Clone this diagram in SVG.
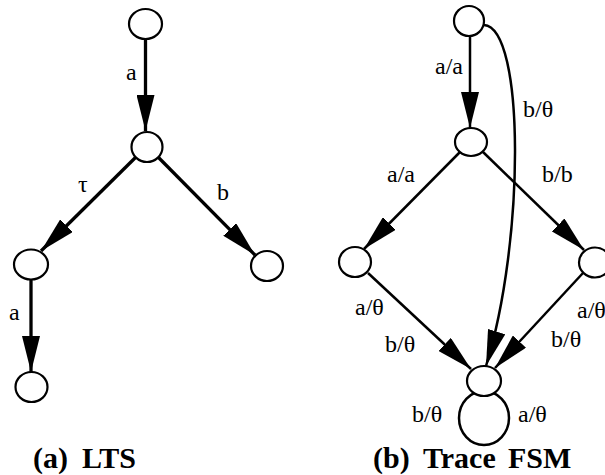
<svg xmlns="http://www.w3.org/2000/svg" width="605" height="475" viewBox="0 0 605 475">
<style>
.node{fill:#fff;stroke:#000;stroke-width:2.2}
.e1{fill:none;stroke:#000;stroke-width:3.3}
.e2{fill:none;stroke:#000;stroke-width:2.5}
</style>
<defs>
<marker id="ah" markerUnits="userSpaceOnUse" markerWidth="36" markerHeight="18" refX="36" refY="9" orient="auto" viewBox="0 0 36 18">
<path d="M0,0 L36,9 L0,18 z" fill="#000"/>
</marker>
</defs>
<rect width="605" height="475" fill="#fff"/>
<g id="connectors">
<line class="e1" x1="145.5" y1="39" x2="145.5" y2="131" marker-end="url(#ah)"/>
<line class="e1" x1="136" y1="157" x2="41" y2="251" marker-end="url(#ah)"/>
<line class="e1" x1="158" y1="157" x2="255" y2="255" marker-end="url(#ah)"/>
<line class="e1" x1="31" y1="280" x2="31" y2="372" marker-end="url(#ah)"/>
<line class="e2" x1="470" y1="36" x2="470" y2="128" marker-end="url(#ah)"/>
<line class="e2" x1="460" y1="152" x2="364" y2="249" marker-end="url(#ah)"/>
<line class="e2" x1="483" y1="152" x2="584" y2="250" marker-end="url(#ah)"/>
<line class="e2" x1="368" y1="273" x2="471" y2="369" marker-end="url(#ah)"/>
<line class="e2" x1="583" y1="273" x2="495" y2="368" marker-end="url(#ah)"/>
<path class="e2" d="M484,25 C525,28 525,240 486,366" marker-end="url(#ah)"/>
<ellipse class="e2" cx="484" cy="418" rx="25" ry="27"/>
</g>
<g id="lts-s0"><ellipse class="node" cx="145.5" cy="24" rx="16.5" ry="15"/></g>
<g id="lts-s1"><ellipse class="node" cx="147" cy="147" rx="15.5" ry="15"/></g>
<g id="lts-s2"><ellipse class="node" cx="31" cy="264.5" rx="17" ry="15"/></g>
<g id="lts-s3"><ellipse class="node" cx="267" cy="266" rx="16" ry="15"/></g>
<g id="lts-s4"><ellipse class="node" cx="31.5" cy="387" rx="16" ry="15"/></g>
<g id="fsm-s0"><ellipse class="node" cx="469" cy="21" rx="15" ry="15"/></g>
<g id="fsm-s1"><ellipse class="node" cx="471" cy="142" rx="16" ry="14"/></g>
<g id="fsm-s2"><ellipse class="node" cx="355" cy="262" rx="16" ry="15"/></g>
<g id="fsm-s3"><ellipse class="node" cx="595" cy="262.5" rx="16" ry="15"/></g>
<g id="fsm-s4"><ellipse class="node" cx="484" cy="381" rx="17" ry="15"/></g>
<g id="labels" font-family="Liberation Serif, Times New Roman, Times, Noto Serif, DejaVu Serif, serif" font-size="24" fill="#000">
<text x="126" y="80">a</text>
<text x="78" y="192">τ</text>
<text x="217" y="200">b</text>
<text x="9" y="320">a</text>
<text x="435" y="74">a/a</text>
<text x="523" y="117">b/θ</text>
<text x="387" y="182">a/a</text>
<text x="542" y="182">b/b</text>
<text x="355" y="315">a/θ</text>
<text x="385" y="352">b/θ</text>
<text x="577" y="318">a/θ</text>
<text x="551" y="347">b/θ</text>
<text x="412" y="422">b/θ</text>
<text x="518" y="422">a/θ</text>
<text x="33" y="468" font-size="30" font-weight="bold">(a) <tspan x="82">LTS</tspan></text>
<text x="373" y="468" font-size="30" font-weight="bold">(b) <tspan x="423">Trace</tspan> <tspan x="508">FSM</tspan></text>
</g>
</svg>
